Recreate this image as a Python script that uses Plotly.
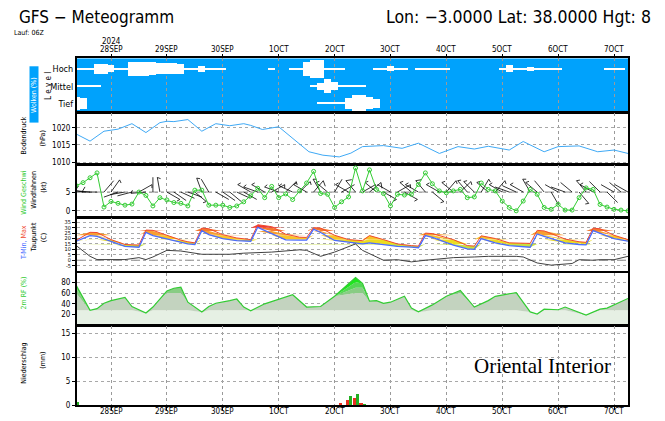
import math
import numpy as np
import pandas as pd
import plotly.graph_objects as go

# the page body keeps its default 8px margin, so the figure is drawn 8px in from the window edge
OFF = 8
WIN_W, WIN_H = 665, 421
W, H = WIN_W - OFF, WIN_H - OFF
START = pd.Timestamp("2024-09-27 09:00")

# ---------------- data ----------------
day_ticks = list(pd.date_range("2024-09-28", "2024-10-07", freq="D"))
day_labels = ["28SEP", "29SEP", "30SEP", "1OCT", "2OCT", "3OCT", "4OCT", "5OCT", "6OCT", "7OCT"]
year_label = "2024"

# cloud cover (%), 3-hourly from START
cloud_high = [5, 5, 5, 60, 60, 40, 5, 5, 80, 80, 80, 75, 65, 65, 65, 60,
              5, 5, 35, 3, 3, 3, 0, 0, 0, 0, 0, 0, 5, 0, 0, 5,
              5, 85, 100, 100, 5, 5, 5, 0, 0, 0, 0, 5, 5, 30, 5, 5,
              0, 3, 3, 3, 3, 3, 0, 0, 0, 0, 0, 0, 0, 5, 40, 5,
              5, 20, 5, 5, 5, 5, 0, 0, 0, 0, 0, 0, 5, 5, 5, 0]
cloud_mid = [5, 5, 5, 5, 0, 0, 0, 0, 0, 0, 0, 0, 0, 0, 0, 0,
             0, 0, 0, 0, 0, 0, 0, 0, 0, 0, 0, 0, 0, 0, 0, 0,
             0, 0, 5, 40, 80, 45, 5, 5, 5, 5, 0, 0, 0, 0, 0, 0,
             0, 0, 0, 0, 0, 0, 0, 0, 0, 0, 0, 0, 0, 0, 0, 0,
             0, 0, 0, 0, 0, 0, 0, 0, 0, 0, 0, 0, 0, 0, 0, 0]
cloud_low = [75, 60, 0, 0, 0, 0, 0, 0, 0, 0, 0, 0, 0, 0, 0, 0,
             0, 0, 0, 0, 0, 0, 0, 0, 0, 0, 0, 0, 0, 0, 0, 0,
             0, 0, 0, 5, 5, 5, 5, 60, 95, 95, 70, 55, 0, 0, 0, 0,
             0, 0, 0, 0, 0, 0, 0, 0, 0, 0, 0, 0, 0, 0, 0, 0,
             0, 0, 0, 0, 0, 0, 0, 0, 0, 0, 0, 0, 0, 0, 0, 0]

# surface pressure (hPa)
pres_h = [0, 6, 12, 18, 24, 30, 36, 39, 42, 48, 54, 60, 66, 72, 75, 80, 87, 93, 100, 106,
          113, 118, 123, 132, 140, 147, 156, 164, 171, 177, 186, 192, 201, 207, 216, 224, 231, 237]
pres_v = [1018.2, 1016.1, 1019.0, 1019.6, 1021.2, 1018.6, 1021.5, 1021.9, 1021.8, 1022.4,
          1019.0, 1021.2, 1020.6, 1021.2, 1020.7, 1019.5, 1020.3, 1017.0, 1013.0, 1012.0,
          1011.5, 1012.6, 1014.5, 1014.8, 1014.0, 1015.5, 1012.5, 1014.5, 1013.8, 1014.6,
          1013.5, 1016.0, 1013.0, 1014.5, 1014.7, 1013.0, 1013.5, 1012.5]

# wind speed (kt) and direction (deg), 3-hourly
wind_speed = [6.7, 7.5, 8.8, 10.1, 1.0, 2.5, 2.0, 1.5, 1.8, 5.0, 4.1, 1.3, 3.5, 2.9, 2.2, 2.0,
              1.3, 5.5, 5.5, 1.5, 1.5, 1.5, 0.9, 1.3, 2.4, 4.0, 6.0, 3.5, 6.5, 3.5, 4.5, 3.0,
              5.3, 7.4, 10.5, 4.6, 4.4, 0.9, 2.4, 3.7, 11.4, 5.3, 10.9, 5.7, 4.6, 1.3, 4.4, 4.2,
              4.4, 7.0, 10.1, 7.2, 5.3, 4.8, 5.3, 5.7, 3.5, 3.7, 7.4, 5.7, 5.3, 2.6, 0.9, 0.0,
              2.6, 5.7, 4.4, 0.9, 0.4, 1.7, 0.2, 0.2, 3.5, 6.1, 5.7, 1.7, 1.0, 0.4, 0.2, 0.0]
wind_dir = [270, 280, 275, 270, 40, 35, 250, 260, 255, 60, 265, 0, 350, 120, 125, 115,
            110, 130, 340, 330, 120, 125, 130, 115, 120, 300, 290, 300, 60, 290, 45, 295,
            45, 300, 40, 330, 310, 30, 60, 300, 320, 60, 50, 310, 120, 300, 60, 120,
            310, 300, 320, 130, 300, 40, 310, 45, 320, 315, 30, 310, 40, 300,
            290, 295, 300, 330, 310, 320, 150, 300, 290, 310, 140, 320, 300, 315, 135, 300, 310, 300]

# temperature (C): 2 m temperature (blue), max (red), dew point (black)
temp_h = [0, 6, 9, 15, 21, 27, 30, 33, 39, 45, 48, 51, 54, 57, 63, 69, 75, 78, 84, 90,
          96, 99, 102, 105, 111, 117, 123, 126, 132, 138, 144, 147, 150, 153, 162, 168, 171, 174, 180, 186,
          195, 198, 201, 210, 216, 219, 222, 225, 231, 237]
temp_t = [17.5, 22.7, 22.0, 17.0, 12.7, 12.0, 25.7, 22.7, 19.6, 16.6, 15.0, 14.5, 27.3, 23.6, 19.8, 18.0, 17.5, 30.3, 24.2, 18.7,
          18.5, 18.5, 28.7, 25.5, 18.2, 16.6, 15.0, 16.0, 14.5, 12.7, 12.0, 11.5, 22.7, 21.0, 14.0, 10.5, 10.0, 20.0, 16.0, 13.5,
          12.0, 24.2, 22.0, 16.0, 14.5, 14.2, 27.3, 25.0, 20.0, 17.5]
temp_max = [18.2, 25.7, 25.5, 19.0, 14.5, 14.0, 27.8, 27.5, 23.0, 18.5, 17.0, 16.0, 29.6, 29.0, 23.5, 20.5, 19.0, 32.7, 30.9, 24.0,
            21.2, 21.0, 30.0, 29.6, 23.0, 19.0, 18.0, 22.7, 19.0, 15.0, 13.5, 13.0, 25.0, 24.5, 19.0, 13.5, 13.0, 22.5, 20.0, 16.0,
            15.5, 27.5, 27.0, 19.5, 17.0, 16.5, 29.5, 29.0, 23.0, 19.0]
dew_h = [0, 6, 9, 21, 27, 30, 33, 39, 45, 54, 66, 72, 84, 96, 99, 105, 111, 120, 123, 132,
         138, 144, 150, 156, 162, 171, 177, 189, 192, 198, 204, 213, 216, 222, 225, 231, 237]
dew_v = [13.6, 3.6, 0.6, 0.6, 2.4, 0.6, 3.0, 9.1, 8.5, 5.5, 5.5, 6.5, 7.5, 9.6, 9.1, 3.6, 7.5, 15.0, 9.1, 0.0,
         0.5, -1.5, 0.0, 1.5, 2.4, 3.0, 3.6, 3.6, 3.0, -2.5, -4.5, -3.0, 0.5, 0.0, 0.5, 0.5, 3.6]

# 2 m relative humidity (%)
rh_h = [0, 6, 9, 12, 15, 21, 24, 30, 33, 39, 42, 45, 48, 54, 57, 60, 66, 69, 72, 75,
        81, 87, 93, 99, 105, 111, 120, 123, 126, 129, 132, 135, 141, 144, 147, 153, 159, 165, 171, 177,
        180, 189, 195, 198, 201, 207, 210, 219, 225, 228, 237]
rh_v = [75, 28, 31, 41, 46, 52, 35, 23, 34, 64, 69, 71, 43, 25, 35, 41, 46, 49, 34, 27,
        40, 48, 57, 34, 35, 54, 89, 78, 45, 46, 41, 43, 54, 32, 25, 38, 54, 65, 34, 46,
        54, 61, 25, 21, 30, 29, 34, 19, 30, 32, 50]

# precipitation (mm): large scale (green) and convective (red)
prec_ls_h = [0, 117, 120, 123]
prec_ls_v = [0.6, 1.8, 2.4, 0.3]
prec_cv_h = [0, 114, 117, 120, 123]
prec_cv_v = [0.8, 0.5, 1.0, 1.5, 0.4]

# ---------------- layout helpers ----------------
FONT = "DejaVu Sans Condensed, Liberation Sans, DejaVu Sans, sans-serif"
XD = [(77 - OFF) / W, (628 - OFF) / W]
PANELS = [(59, 113), (114, 166), (167, 220), (221, 274), (276, 329), (330, 410)]
def fx(px):
    return (px - OFF) / W
def fy(py):
    return 1 - (py - OFF) / H
def ydom(top, bot):
    return [fy(bot), fy(top)]
def hrs(hs):
    return [START + pd.Timedelta(hours=h) for h in hs]
def sfx(k):
    return "" if k == 1 else str(k)

grid3 = hrs([3 * i for i in range(80)])
X0 = START + pd.Timedelta(hours=0.4)
X1 = START + pd.Timedelta(hours=237.0)

RANGES = {1: [0.54, 3.63], 2: [1009.4, 1024.4], 3: [-1.76, 12.18],
          4: [-9.7, 38.5], 5: [0.4, 97.8], 6: [0, 16.5]}

fig = go.Figure()
def add(tr, k):
    tr.update(xaxis="x" + sfx(k), yaxis="y" + sfx(k))
    fig.add_trace(tr)

# ---- cloud panel ----
for vals, lev in ((cloud_high, 3), (cloud_mid, 2), (cloud_low, 1)):
    hgt = [max(v, 0) / 100 * 1.0 for v in vals]
    add(go.Bar(x=grid3, y=hgt, base=[lev - h / 2 for h in hgt], width=3 * 3600 * 1000,
               marker=dict(color="white", line=dict(width=0)), hoverinfo="skip"), 1)

# ---- pressure ----
add(go.Scatter(x=hrs(pres_h), y=pres_v, mode="lines", line=dict(color="#3fa9f5", width=1)), 2)

# ---- wind barbs ----
yd3 = ydom(*PANELS[2])
ms_per_px = (X1 - X0).total_seconds() * 1000 / ((XD[1] - XD[0]) * W)
kt_per_px = (RANGES[3][1] - RANGES[3][0]) / ((yd3[1] - yd3[0]) * H)
bx, by = [], []
L = 15
for t0, s, d in zip(grid3, wind_speed, wind_dir):
    a = math.radians(d)
    ux, uy = math.sin(a), math.cos(a)
    tipx, tipy = L * ux, L * uy
    def P(px, py):
        return t0 + pd.Timedelta(milliseconds=px * ms_per_px), 5 + py * kt_per_px
    p0, p1 = P(0, 0), P(tipx, tipy)
    bx += [p0[0], p1[0], None]; by += [p0[1], p1[1], None]
    flen = 6 if s >= 7.5 else (3.5 if s >= 2.5 else 0)
    if flen:
        ang = math.atan2(uy, ux) - math.radians(120)
        p2 = P(tipx + flen * math.cos(ang), tipy + flen * math.sin(ang))
        bx += [p1[0], p2[0], None]; by += [p1[1], p2[1], None]
add(go.Scatter(x=bx, y=by, mode="lines", line=dict(color="black", width=0.8), hoverinfo="skip"), 3)
add(go.Scatter(x=grid3, y=wind_speed, mode="lines+markers", line=dict(color="#33cc33", width=1),
               marker=dict(symbol="circle-open", size=4, color="#33cc33", line=dict(width=1))), 3)

# ---- temperature bands ----
tt = np.array(temp_t); tm = np.array(temp_max)
bands = [(-50, 15, "#c8e040"), (15, 19, "#ecdc20"), (19, 23, "#f8c428"),
         (23, 27, "#f8a030"), (27, 30, "#f47a30"), (30, 60, "#f03a30")]
tx = hrs(temp_h)
for lo, hi, col in bands:
    add(go.Scatter(x=tx, y=np.clip(tt, lo, hi), mode="lines", line=dict(width=0), hoverinfo="skip"), 4)
    add(go.Scatter(x=tx, y=np.clip(tm, lo, hi), mode="lines", line=dict(width=0), fill="tonexty",
                   fillcolor=col, hoverinfo="skip"), 4)
add(go.Scatter(x=tx, y=temp_max, mode="lines", line=dict(color="#f04830", width=1)), 4)
add(go.Scatter(x=tx, y=temp_t, mode="lines", line=dict(color="#4a6cff", width=1.3)), 4)
add(go.Scatter(x=hrs(dew_h), y=dew_v, mode="lines", line=dict(color="#404040", width=1)), 4)

# ---- relative humidity bands ----
rv = np.array(rh_v, dtype=float)
rx = hrs(rh_h)
rh_bands = [(28, "#e6f0e4"), (60, "#c3d3bf"), (70, "#88cc84"), (80, "#55d655"), (100, "#1ee61e")]
for i, (top, col) in enumerate(rh_bands):
    add(go.Scatter(x=rx, y=np.minimum(rv, top), mode="lines", line=dict(width=0),
                   fill="tozeroy" if i == 0 else "tonexty", fillcolor=col, hoverinfo="skip"), 5)
add(go.Scatter(x=rx, y=rh_v, mode="lines", line=dict(color="#33cc33", width=1.2)), 5)

# ---- precipitation ----
BW = 1.3 * 3600 * 1000
add(go.Bar(x=hrs(prec_cv_h), y=prec_cv_v, width=BW, offset=-BW, marker=dict(color="#e83020", line=dict(width=0))), 6)
add(go.Bar(x=hrs(prec_ls_h), y=prec_ls_v, width=BW, offset=0, marker=dict(color="#22b022", line=dict(width=0))), 6)

# ---------------- axes ----------------
lay = dict(width=W, height=H, margin=dict(l=0, r=0, t=0, b=0), paper_bgcolor="white",
           plot_bgcolor="white", showlegend=False, barmode="overlay", bargap=0,
           font=dict(family=FONT, size=8, color="black"))
ytick = {1: dict(tickvals=[1, 2, 3], ticktext=["Tief", "Mittel", "Hoch"], showgrid=False, ticks="",
                 tickfont=dict(size=9)),
         2: dict(tickvals=[1010, 1015, 1020], ticktext=["1010", "1015", "1020"]),
         3: dict(tickvals=[0, 5], ticktext=["0", "5"]),
         4: dict(tickvals=list(range(-5, 40, 5)), ticktext=[str(v) for v in range(-5, 40, 5)],
                 tickfont=dict(size=5.5)),
         5: dict(tickvals=[20, 40, 60, 80], ticktext=["20", "40", "60", "80"]),
         6: dict(tickvals=[0, 5, 10, 15], ticktext=["0", "5", "10", "15"])}
for k in range(1, 7):
    top, bot = PANELS[k - 1]
    xa = dict(domain=XD, range=[X0, X1], type="date", anchor="y" + sfx(k),
              tickvals=day_ticks, ticktext=day_labels, showticklabels=False,
              side="top" if k == 1 else "bottom", ticks="outside" if k in (1, 6) else "",
              ticklen=3, tickcolor="black",
              showgrid=True, gridcolor="#9a9a9a", griddash="dot", gridwidth=1,
              showline=True, linecolor="black", linewidth=1.5, mirror=True, zeroline=False)
    ya = dict(domain=ydom(top, bot), range=RANGES[k], anchor="x" + sfx(k),
              showgrid=True, gridcolor="#a8a8a8", griddash="dot", gridwidth=1,
              showline=True, linecolor="black", linewidth=2, mirror=True, zeroline=False,
              ticks="outside", ticklen=3, tickcolor="black", tickfont=dict(size=8))
    ya.update(ytick[k])
    lay["xaxis" + sfx(k)] = xa
    lay["yaxis" + sfx(k)] = ya
fig.update_layout(**lay)

# cloud panel background + reference lines
shapes = [dict(type="rect", xref="x domain", yref="y domain", x0=0, x1=1, y0=0, y1=1,
               fillcolor="#00a2fc", line=dict(width=0), layer="below"),
          dict(type="line", xref="x3 domain", yref="y3", x0=0, x1=1, y0=5, y1=5,
               line=dict(color="#909090", width=1, dash="dashdot"), layer="below"),
          dict(type="line", xref="x4 domain", yref="y4", x0=0, x1=1, y0=0, y1=0,
               line=dict(color="#808080", width=1, dash="dashdot"), layer="below"),
          dict(type="rect", xref="paper", yref="paper", x0=fx(29.5), x1=fx(38.5),
               y0=fy(124), y1=fy(67), fillcolor="#00a2fc", line=dict(width=0))]
fig.update_layout(shapes=shapes)

# ---------------- texts ----------------
def ann(text, px, py, size=7, color="black", angle=0, xanchor="center", family=FONT):
    fig.add_annotation(text=text, x=fx(px), y=fy(py), xref="paper", yref="paper",
                       showarrow=False, textangle=angle, xanchor=xanchor, yanchor="middle",
                       font=dict(size=size, color=color, family=family), borderpad=0)

# day labels on top and bottom, placed on the date axis
for d, lab in zip(day_ticks, day_labels):
    fig.add_annotation(text=lab, x=d, xref="x", y=fy(50), yref="paper", showarrow=False,
                       yanchor="middle", font=dict(size=8), borderpad=0)
    fig.add_annotation(text=lab, x=d, xref="x6", y=fy(416), yref="paper", showarrow=False,
                       yanchor="middle", font=dict(size=8), borderpad=0)
fig.add_annotation(text=year_label, x=day_ticks[0], xref="x", y=fy(42), yref="paper",
                   showarrow=False, yanchor="middle", font=dict(size=8), borderpad=0)

ann("GFS − Meteogramm", 18, 17, size=17, xanchor="left")
ann("Lon: −3.0000 Lat: 38.0000 Hgt: 8", 385, 17, size=17.5, xanchor="left")
ann("Lauf: 06Z", 13, 33, size=7, xanchor="left")
ann("Wolken (%)", 34, 96, size=7, color="white", angle=-90)
ann("L e v e l", 48, 87, size=8, angle=-90)
ann("Bodendruck", 24, 137, angle=-90)
ann("(hPa)", 43, 140, angle=-90)
ann("Wind Geschwi", 24, 195, color="#33cc33", angle=-90)
ann("Windfahnen", 34, 192, angle=-90)
ann("(kt)", 44, 190, angle=-90)
ann("<span style='color:#4a6cff'>T-Min,</span> <span style='color:#f04830'>Max</span>", 24, 246, angle=-90)
ann("Taupunkt", 34, 240, angle=-90)
ann("(C)", 44, 241, angle=-90)
ann("2m RF (%)", 24, 297, color="#33cc33", angle=-90)
ann("Niederschlag", 24, 368, angle=-90)
ann("(mm)", 43, 365, angle=-90)
ann("Oriental Interior", 612, 370, size=21, xanchor="right",
    family="Liberation Serif, DejaVu Serif, serif")

fig.write_html("out.html")
